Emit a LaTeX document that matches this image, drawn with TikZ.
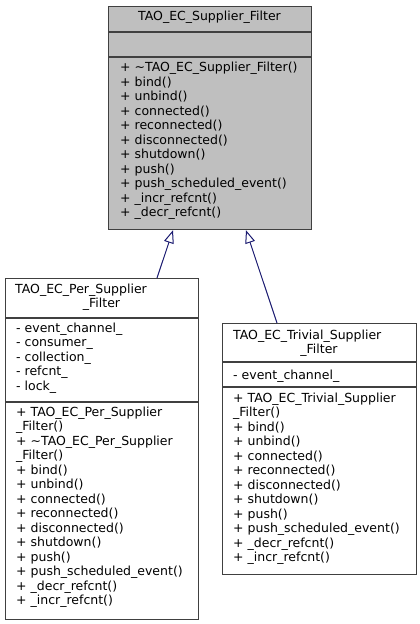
\documentclass[tikz,border=0pt]{standalone}
\usepackage{fontspec}
\setmainfont{DejaVu Sans}
\usetikzlibrary{arrows.meta,calc}
\definecolor{boxc}{HTML}{404040}
\definecolor{basefill}{HTML}{BFBFBF}
\definecolor{arrc}{HTML}{191970}
\newcommand\umlfont{\fontsize{12.5}{14.5}\selectfont}
\begin{document}
\begin{tikzpicture}[x=1pt,y=-1pt,
  cls/.style={draw=boxc, line width=1.2pt, inner sep=0pt, anchor=north west},
  sepline/.style={draw=boxc, line width=1.2pt},
  txt/.style={anchor=west, inner sep=0pt, text height=9.4pt, text depth=3.1pt, font=\umlfont},
  ttl/.style={anchor=center, inner sep=0pt, text height=9.4pt, text depth=3.1pt, font=\umlfont},
  inh/.style={draw=arrc, line width=1pt, -{Triangle[open, length=13pt, width=10pt, line width=1pt]}}]
\useasboundingbox (0,0) rectangle (420,624);
\fill[white] (0,0) rectangle (420,624);

% base class
\node[cls, fill=basefill, minimum width=203pt, minimum height=223pt] (base) at (108,6) {};
\draw[sepline] ($(base.north west)+(0,26)$) -- ($(base.north east)+(0,26)$);
\draw[sepline] ($(base.north west)+(0,51)$) -- ($(base.north east)+(0,51)$);
\node[ttl] (bt) at (209.5,17) {TAO\_EC\_Supplier\_Filter};
\foreach \t [count=\i from 0] in {%
  + \textasciitilde TAO\_EC\_Supplier\_Filter(),
  + bind(), + unbind(), + connected(), + reconnected(), + disconnected(),
  + shutdown(), + push(), + push\_scheduled\_event(), + \_incr\_refcnt(),
  + \_decr\_refcnt()}
  \node[txt] (bm\i) at (120,68.5+14.5*\i) {\t};

% per supplier filter
\node[cls, minimum width=193pt, minimum height=341pt] (per) at (5,278) {};
\draw[sepline] ($(per.north west)+(0,40)$) -- ($(per.north east)+(0,40)$);
\draw[sepline] ($(per.north west)+(0,124)$) -- ($(per.north east)+(0,124)$);
\node[txt] (pt1) at (15,290) {TAO\_EC\_Per\_Supplier};
\node[ttl] (pt2) at (101.5,304) {\_Filter};
\foreach \t [count=\i from 0] in {%
  - event\_channel\_, - consumer\_, - collection\_, - refcnt\_, - lock\_}
  \node[txt] (pa\i) at (16,329+14.5*\i) {\t};
\foreach \t [count=\i from 0] in {%
  + TAO\_EC\_Per\_Supplier, \_Filter(),
  + \textasciitilde TAO\_EC\_Per\_Supplier, \_Filter(),
  + bind(), + unbind(), + connected(), + reconnected(), + disconnected(),
  + shutdown(), + push(), + push\_scheduled\_event(), + \_decr\_refcnt(),
  + \_incr\_refcnt()}
  \node[txt] (pm\i) at (16,413+14.5*\i) {\t};

% trivial supplier filter
\node[cls, minimum width=194pt, minimum height=251pt] (triv) at (222,323) {};
\draw[sepline] ($(triv.north west)+(0,39)$) -- ($(triv.north east)+(0,39)$);
\draw[sepline] ($(triv.north west)+(0,64)$) -- ($(triv.north east)+(0,64)$);
\node[txt] (tt1) at (233,336) {TAO\_EC\_Trivial\_Supplier};
\node[ttl] (tt2) at (319,350) {\_Filter};
\node[txt] (ta0) at (233,376) {- event\_channel\_};
\foreach \t [count=\i from 0] in {%
  + TAO\_EC\_Trivial\_Supplier, \_Filter(),
  + bind(), + unbind(), + connected(), + reconnected(), + disconnected(),
  + shutdown(), + push(), + push\_scheduled\_event(), + \_decr\_refcnt(),
  + \_incr\_refcnt()}
  \node[txt] (tm\i) at (233,399+14.5*\i) {\t};

% inheritance
\draw[inh] ($(per.north west)+(152,0)$) -- ($(base.south west)+(65,0)$);
\draw[inh] ($(triv.north west)+(55,0)$) -- ($(base.south west)+(138,0)$);
\end{tikzpicture}
\end{document}
